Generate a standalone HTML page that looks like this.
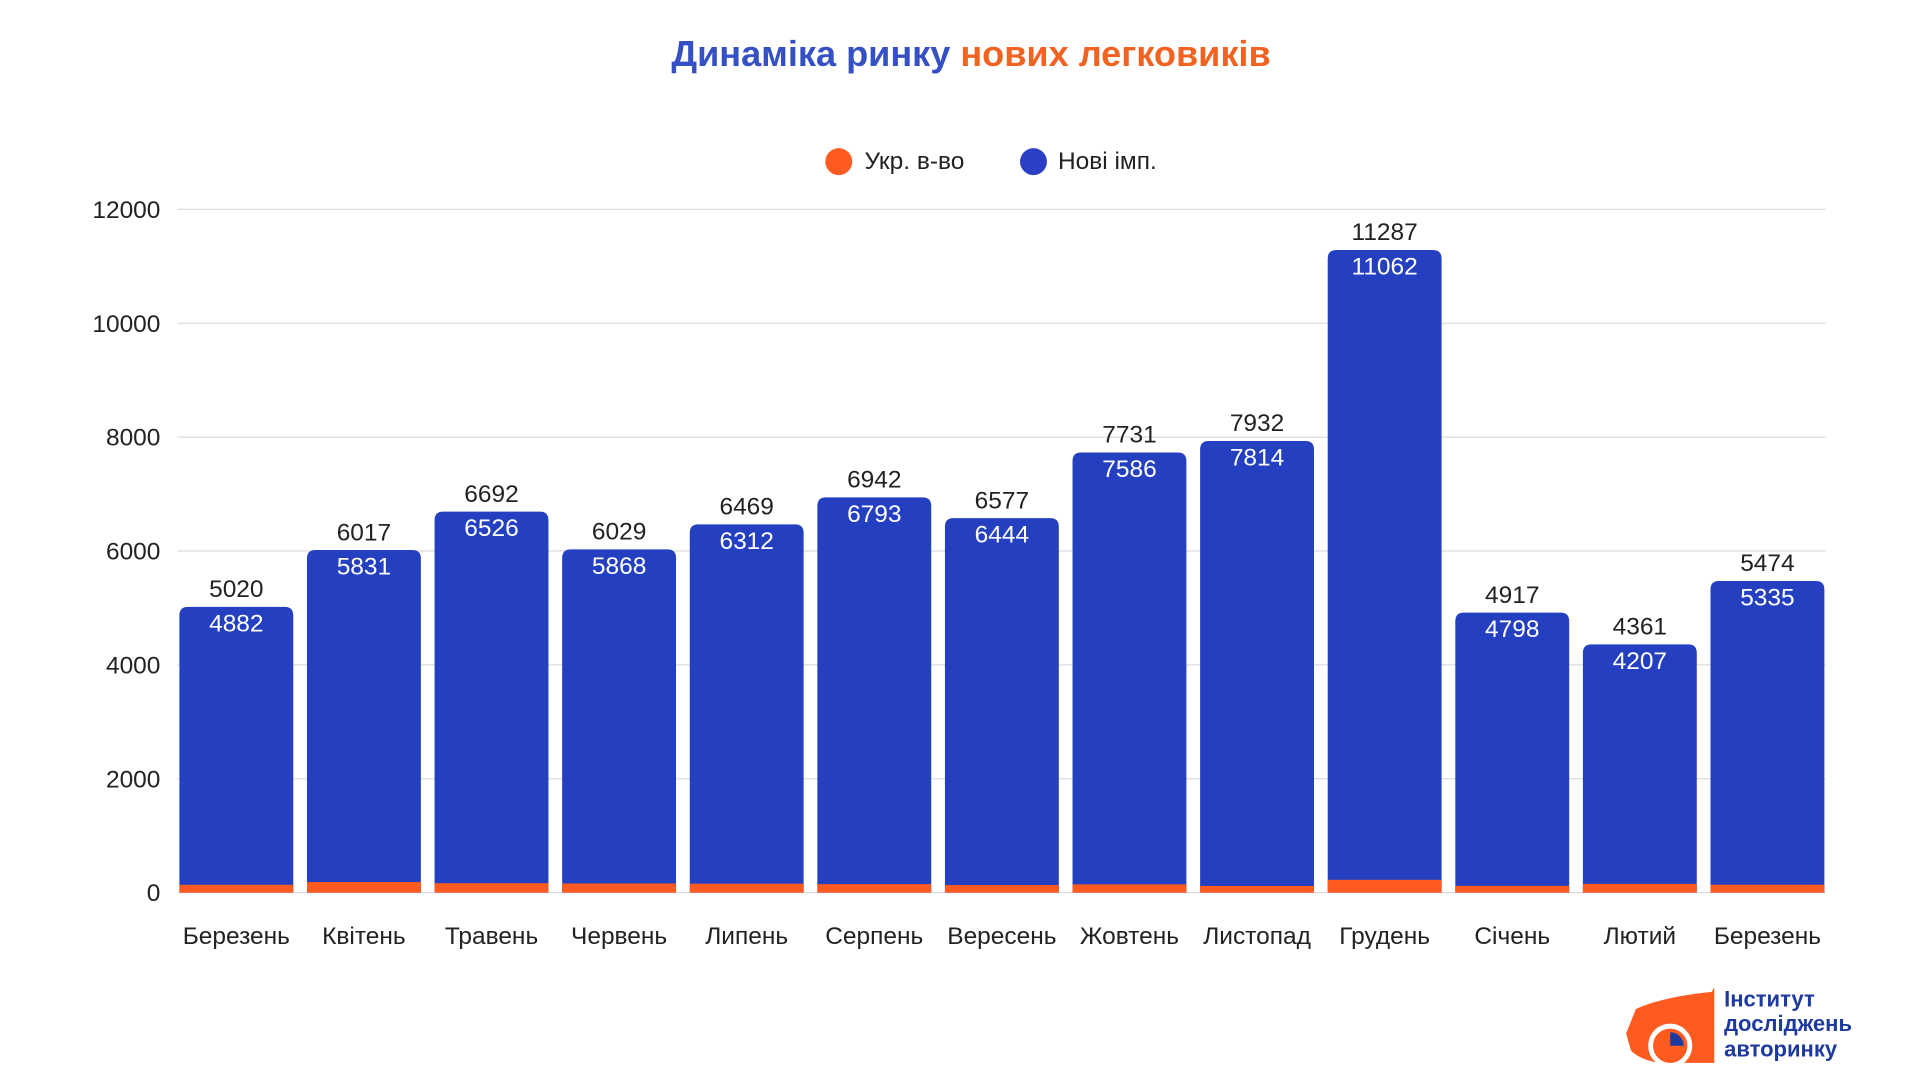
<!DOCTYPE html>
<html><head><meta charset="utf-8"><style>
html,body{margin:0;padding:0;background:#fff;}
svg{display:block;}
text{font-family:"Liberation Sans","DejaVu Sans",sans-serif;}
</style></head><body>
<svg width="1920" height="1080" viewBox="0 0 1568 882" xmlns="http://www.w3.org/2000/svg">
<rect width="1568" height="882" fill="#fff"/>
<text x="793" y="54" text-anchor="middle" font-size="29.5" font-weight="bold"><tspan fill="#3550c4">Динаміка ринку </tspan><tspan fill="#f26322">нових легковиків</tspan></text>
<circle cx="685" cy="132" r="11" fill="#ff5a1f"/>
<text x="706" y="138" font-size="20" fill="#222">Укр. в-во</text>
<circle cx="844" cy="132" r="11" fill="#2a3fc4"/>
<text x="864" y="138" font-size="20" fill="#222">Нові імп.</text>
<g stroke="#dcdcdc" stroke-width="1">
<line x1="145" x2="1491" y1="171" y2="171"/><line x1="145" x2="1491" y1="264" y2="264"/>
<line x1="145" x2="1491" y1="357" y2="357"/><line x1="145" x2="1491" y1="450" y2="450"/>
<line x1="145" x2="1491" y1="543" y2="543"/><line x1="145" x2="1491" y1="636" y2="636"/>
<line x1="145" x2="1491" y1="729" y2="729"/>
</g>
<g font-size="20" fill="#222" text-anchor="end">
<text x="131" y="178">12000</text><text x="131" y="271">10000</text><text x="131" y="364">8000</text>
<text x="131" y="457">6000</text><text x="131" y="550">4000</text><text x="131" y="643">2000</text><text x="131" y="736">0</text>
</g>
<g id="bars"></g>
<g transform="translate(1328,806)">
<path d="M8 18 Q30 8 70 4 L72 0 L72 62 L28 62 Q12 60 4 52 L0 38 Z" fill="#ff5a1f"/>
<circle cx="36" cy="48" r="16" fill="#ff5a1f" stroke="#fff" stroke-width="4"/>
<path d="M36 48 L36 37 A11 11 0 0 1 47 48 Z" fill="#1f3a9e"/>
<text x="80" y="16" font-size="18" font-weight="bold" fill="#1f3a9e">Інститут</text>
<text x="80" y="36" font-size="18" font-weight="bold" fill="#1f3a9e">досліджень</text>
<text x="80" y="57" font-size="18" font-weight="bold" fill="#1f3a9e">авторинку</text>
</g>
</svg>
<script>
const d=[["Березень",5020,4882],["Квітень",6017,5831],["Травень",6692,6526],["Червень",6029,5868],["Липень",6469,6312],["Серпень",6942,6793],["Вересень",6577,6444],["Жовтень",7731,7586],["Листопад",7932,7814],["Грудень",11287,11062],["Січень",4917,4798],["Лютий",4361,4207],["Березень",5474,5335]];
const g=document.getElementById('bars');let s='';
const k=0.0465,b=729,w=93,r=7;
d.forEach((e,i)=>{const c=193+104.2*i,x=c-w/2,top=b-e[1]*k,mid=b-(e[1]-e[2])*k;
s+=`<path d="M${x} ${b} L${x} ${top+r} Q${x} ${top} ${x+r} ${top} L${x+w-r} ${top} Q${x+w} ${top} ${x+w} ${top+r} L${x+w} ${b} Z" fill="#2440c0"/>`;
s+=`<rect x="${x}" y="${mid}" width="${w}" height="${b-mid}" fill="#ff5a1f"/>`;
s+=`<text x="${c}" y="${top-8}" text-anchor="middle" font-size="20" fill="#222">${e[1]}</text>`;
s+=`<text x="${c}" y="${top+20}" text-anchor="middle" font-size="20" fill="#fff">${e[2]}</text>`;
s+=`<text x="${c}" y="771" text-anchor="middle" font-size="20" fill="#222">${e[0]}</text>`;});
g.innerHTML=s;
</script>
</body></html>
